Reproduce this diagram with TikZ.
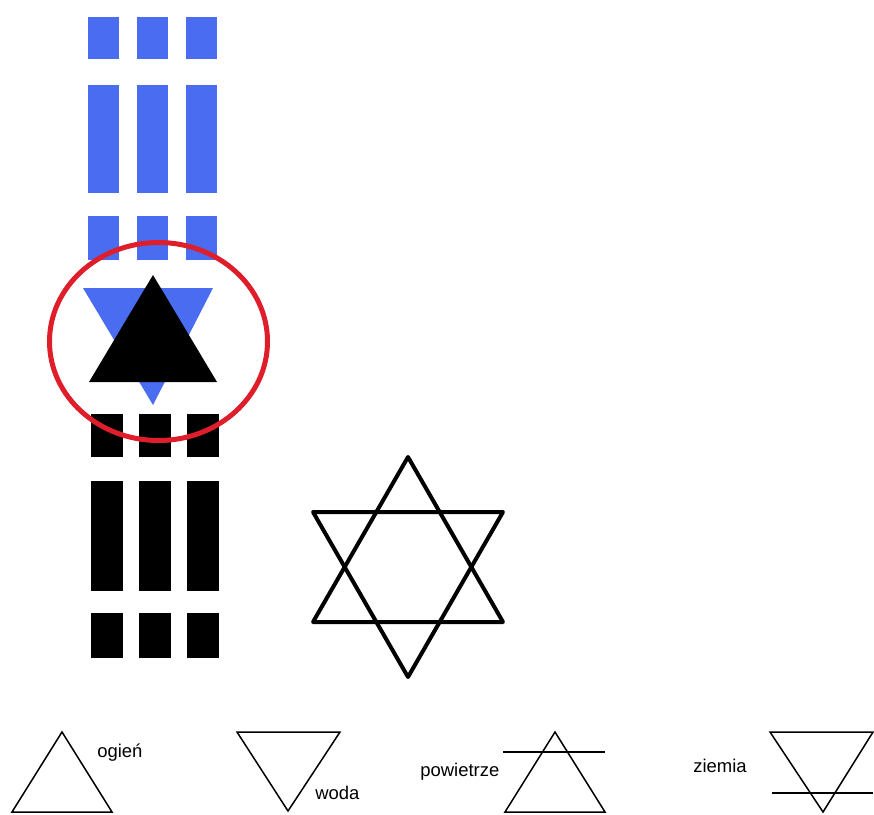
\documentclass[tikz,border=0pt]{standalone}
\usepackage{fontspec}
\setmainfont{Liberation Sans}
\usepackage{tikz}
\usepackage{xcolor}
\definecolor{symblue}{RGB}{74,108,240}
\definecolor{symred}{RGB}{222,30,42}

\begin{document}
\begin{tikzpicture}[
    x=0.02cm, y=-0.02cm,
    bluebar/.style={fill=symblue},
    blackbar/.style={fill=black},
    ring/.style={draw=symred, line width=0.1cm},
    star/.style={draw=black, line width=0.08cm, line join=round},
    element/.style={draw=black, line width=0.03cm, line join=miter},
    lbl/.style={inner sep=0pt, anchor=west, font=\fontsize{10.5}{12}\selectfont}
]
\useasboundingbox (0,0) rectangle (874,814);

% blue bars
\foreach \x in {88,137,186}
  \foreach \ya/\yb in {17/59,85/193,216/260}
    \fill[bluebar] (\x,\ya) rectangle (\x+31,\yb);

% black bars
\foreach \x in {91,139,187}
  \foreach \ya/\yb in {414/457,481/591,613/658}
    \fill[blackbar] (\x,\ya) rectangle (\x+32,\yb);

% triangles in the ring
\fill[symblue] (83,288) -- (213,288) -- (153,405) -- cycle;
\fill[black] (153,275) -- (217,382) -- (89,382) -- cycle;
\draw[ring] (158.5,341.5) ellipse [x radius=109, y radius=99];

% hexagram
\draw[star] (408,457) -- (503,622) -- (313,622) -- cycle;
\draw[star] (408,677) -- (503,512) -- (313,512) -- cycle;

% elements
\draw[element] (62,732) -- (112,812) -- (12,812) -- cycle;
\node[lbl] (ogien) at (97,753) {ogień};

\draw[element] (237,732) -- (340,732) -- (288,811) -- cycle;
\node[lbl] (woda) at (315,793) {woda};

\draw[element] (555,732) -- (605,812) -- (505,812) -- cycle;
\draw[element] (503,752) -- (605,752);
\node[lbl] (powietrze) at (420,772) {powietrze};

\draw[element] (770,732) -- (873,732) -- (823,812) -- cycle;
\draw[element] (772,793) -- (873,793);
\node[lbl] (ziemia) at (693,766) {ziemia};
\end{tikzpicture}
\end{document}
